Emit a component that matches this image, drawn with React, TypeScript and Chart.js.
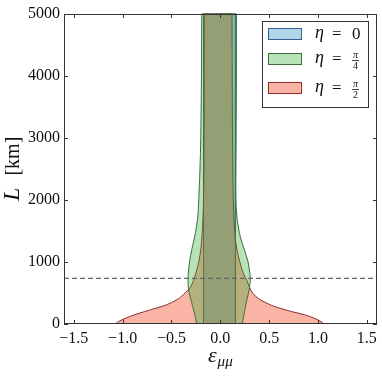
import React, { useEffect, useRef } from 'react';
import { Chart, registerables } from 'chart.js';

Chart.register(...registerables);

// ---------- data ----------
const X_TICKS = [-1.5, -1.0, -0.5, 0.0, 0.5, 1.0, 1.5];
const Y_TICKS = [0, 1000, 2000, 3000, 4000, 5000];
const BASELINE_L = 735; // dashed reference line [km]

const L_KM = [0, 50, 100, 150, 200, 250, 300, 400, 500, 600, 700, 800, 1000, 1200, 1400, 1700, 2000, 2500, 3000, 4000, 5000];

// eta = 0
const ETA0_LEFT = [-0.172, -0.172, -0.172, -0.172, -0.172, -0.172, -0.172, -0.172, -0.172, -0.172, -0.172, -0.172, -0.172, -0.172, -0.172, -0.172, -0.172, -0.172, -0.172, -0.172, -0.172];
const ETA0_RIGHT = [0.155, 0.155, 0.155, 0.155, 0.155, 0.155, 0.155, 0.155, 0.155, 0.155, 0.155, 0.155, 0.155, 0.155, 0.155, 0.155, 0.155, 0.155, 0.155, 0.155, 0.155];

// eta = pi/4
const ETA4_LEFT = [-0.24, -0.247, -0.254, -0.262, -0.27, -0.278, -0.286, -0.302, -0.318, -0.328, -0.331, -0.329, -0.315, -0.292, -0.263, -0.232, -0.221, -0.208, -0.2, -0.193, -0.19];
const ETA4_RIGHT = [0.225, 0.23, 0.236, 0.242, 0.248, 0.254, 0.26, 0.273, 0.288, 0.3, 0.307, 0.304, 0.284, 0.246, 0.205, 0.172, 0.16, 0.16, 0.162, 0.165, 0.165];

// eta = pi/2
const ETA2_LEFT = [-1.075, -1.03, -0.96, -0.875, -0.775, -0.67, -0.565, -0.435, -0.36, -0.303, -0.275, -0.254, -0.22, -0.2, -0.188, -0.178, -0.172, -0.168, -0.166, -0.165, -0.165];
const ETA2_RIGHT = [1.06, 1.02, 0.95, 0.86, 0.73, 0.62, 0.525, 0.4, 0.33, 0.297, 0.273, 0.24, 0.2, 0.17, 0.152, 0.14, 0.133, 0.128, 0.125, 0.122, 0.12];

// ---------- styles ----------
const SERIF = "'Liberation Serif', 'DejaVu Serif', serif";
const BLUE_FILL = 'rgba(35,133,189,0.35)';
const BLUE_EDGE = '#34618f';
const GREEN_FILL = 'rgba(52,172,52,0.35)';
const GREEN_EDGE = '#3a6e3e';
const RED_FILL = 'rgba(241,41,0,0.35)';
const RED_EDGE = '#8a2e2e';
const FRAME = '#333333';

function polygon(left: number[], right: number[]) {
  const pts: { x: number; y: number }[] = L_KM.map((l, i) => ({ x: left[i], y: l }));
  const n = L_KM.length - 1;
  pts.push({ x: left[n], y: L_KM[n] });
  const rp = L_KM.map((l, i) => ({ x: right[i], y: l })).reverse();
  pts.push({ x: rp[0].x, y: rp[0].y });
  return pts.concat(rp);
}

const LEGEND = [
  { label: '0', fill: BLUE_FILL, edge: BLUE_EDGE },
  { label: 'π/4', fill: GREEN_FILL, edge: GREEN_EDGE },
  { label: 'π/2', fill: RED_FILL, edge: RED_EDGE },
];

const decor = {
  id: 'decor',
  afterDatasetsDraw(chart: any) {
    const { ctx, chartArea: a, scales } = chart;
    ctx.save();
    // frame
    ctx.strokeStyle = FRAME;
    ctx.lineWidth = 1;
    const L = Math.round(a.left), T = Math.round(a.top), R = Math.round(a.right), B = Math.round(a.bottom);
    ctx.strokeRect(L + 0.5, T + 0.5, R - L - 1, B - T - 1);
    // inward ticks on all sides
    ctx.beginPath();
    X_TICKS.forEach((v) => {
      const px = Math.round(scales.x.getPixelForValue(v)) + 0.5;
      ctx.moveTo(px, B); ctx.lineTo(px, B - 4);
      ctx.moveTo(px, T); ctx.lineTo(px, T + 4);
    });
    Y_TICKS.forEach((v) => {
      const py = Math.round(scales.y.getPixelForValue(v)) + 0.5;
      ctx.moveTo(L, py); ctx.lineTo(L + 4, py);
      ctx.moveTo(R, py); ctx.lineTo(R - 4, py);
    });
    ctx.stroke();

    // legend
    const bx = 262.5, by = 21.5, bw = 106, bh = 86;
    ctx.fillStyle = '#ffffff';
    ctx.fillRect(bx, by, bw, bh);
    ctx.strokeStyle = FRAME;
    ctx.strokeRect(bx, by, bw, bh);
    const rows = [34, 59, 88];
    LEGEND.forEach((e, i) => {
      const cy = rows[i];
      ctx.fillStyle = e.fill;
      ctx.fillRect(268, cy - 6, 34, 12);
      ctx.strokeStyle = e.edge;
      ctx.lineWidth = 1;
      ctx.strokeRect(268.5, cy - 5.5, 33, 11);
      ctx.fillStyle = '#111';
      ctx.textBaseline = 'alphabetic';
      ctx.textAlign = 'left';
      ctx.font = `italic 18px ${SERIF}`;
      ctx.fillText('η', 315, cy + 4);
      ctx.font = `17px ${SERIF}`;
      ctx.fillText('=', 332, cy + 5);
      if (e.label === '0') {
        ctx.font = `17px ${SERIF}`;
        ctx.fillText('0', 352, cy + 5);
      } else {
        const [num, den] = e.label.split('/');
        const cx = 355.5;
        const bar = cy + 1;
        ctx.textAlign = 'center';
        ctx.font = `italic 10px ${SERIF}`;
        ctx.fillText(num, cx, bar - 2);
        ctx.font = `10px ${SERIF}`;
        ctx.fillText(den, cx, bar + 9);
        ctx.beginPath();
        ctx.strokeStyle = '#111';
        ctx.lineWidth = 0.8;
        ctx.moveTo(cx - 3.5, bar + 0.5);
        ctx.lineTo(cx + 3.5, bar + 0.5);
        ctx.stroke();
        ctx.lineWidth = 1;
      }
    });

    // x axis title: ε_{μμ}
    ctx.fillStyle = '#111';
    ctx.textAlign = 'left';
    ctx.textBaseline = 'alphabetic';
    ctx.font = `italic 22px ${SERIF}`;
    const wE = ctx.measureText('ε').width;
    ctx.font = `italic 15px ${SERIF}`;
    const wM = ctx.measureText('μμ').width;
    const cxT = (a.left + a.right) / 2;
    const x0 = cxT - (wE + wM + 1) / 2;
    ctx.font = `italic 22px ${SERIF}`;
    ctx.fillText('ε', x0, 362);
    ctx.font = `italic 15px ${SERIF}`;
    ctx.fillText('μμ', x0 + wE + 1, 366);

    // y axis title: L [km]
    ctx.save();
    ctx.translate(19, (a.top + a.bottom) / 2);
    ctx.rotate(-Math.PI / 2);
    ctx.font = `italic 24px ${SERIF}`;
    const wL = ctx.measureText('L').width;
    ctx.font = `20px ${SERIF}`;
    const wK = ctx.measureText('[km]').width;
    const gap = 12;
    const s = -(wL + gap + wK) / 2;
    ctx.font = `italic 24px ${SERIF}`;
    ctx.fillText('L', s, 0);
    ctx.font = `20px ${SERIF}`;
    ctx.fillText('[km]', s + wL + gap, 0);
    ctx.restore();

    ctx.restore();
  },
};

export default function App() {
  const ref = useRef<HTMLCanvasElement>(null);
  useEffect(() => {
    document.body.style.margin = '0';
    const canvas = ref.current;
    if (!canvas) return;
    const common = { pointRadius: 0, pointHoverRadius: 0, borderWidth: 1, tension: 0.3 };
    const chart = new Chart(canvas, {
      type: 'line',
      data: {
        datasets: [
          {
            label: 'baseline',
            data: [{ x: -1.6, y: BASELINE_L }, { x: 1.6, y: BASELINE_L }],
            borderColor: '#666666',
            borderWidth: 1.2,
            borderDash: [5, 3],
            pointRadius: 0,
            fill: false,
            tension: 0,
          },
          {
            label: 'η = π/4',
            data: polygon(ETA4_LEFT, ETA4_RIGHT),
            backgroundColor: GREEN_FILL,
            borderColor: GREEN_EDGE,
            fill: 'shape',
            ...common,
          },
          {
            label: 'η = π/2',
            data: polygon(ETA2_LEFT, ETA2_RIGHT),
            backgroundColor: RED_FILL,
            borderColor: RED_EDGE,
            fill: 'shape',
            ...common,
          },
          {
            label: 'η = 0',
            data: polygon(ETA0_LEFT, ETA0_RIGHT),
            backgroundColor: BLUE_FILL,
            borderColor: BLUE_EDGE,
            fill: 'shape',
            ...common,
            tension: 0,
          },
        ],
      },
      options: {
        responsive: false,
        animation: false,
        devicePixelRatio: 1,
        layout: { padding: { top: 12, right: 5, left: 0, bottom: 0 } },
        plugins: {
          legend: { display: false },
          tooltip: { enabled: false },
        },
        scales: {
          x: {
            type: 'linear',
            min: -1.6,
            max: 1.6,
            grid: { display: false, drawTicks: false },
            border: { display: false },
            afterBuildTicks: (s: any) => {
              s.ticks = X_TICKS.map((v) => ({ value: v }));
            },
            afterFit: (s: any) => {
              s.height = 54;
            },
            ticks: {
              padding: 5,
              color: '#111',
              font: { family: SERIF, size: 16 },
              maxRotation: 0,
              autoSkip: false,
              callback: (v: any) => Number(v).toFixed(1).replace('-', '\u2212'),
            },
          },
          y: {
            type: 'linear',
            min: 0,
            max: 5000,
            grid: { display: false, drawTicks: false },
            border: { display: false },
            afterBuildTicks: (s: any) => {
              s.ticks = Y_TICKS.map((v) => ({ value: v }));
            },
            afterFit: (s: any) => {
              s.width = 64;
            },
            ticks: {
              padding: 4,
              color: '#111',
              font: { family: SERIF, size: 16 },
              autoSkip: false,
              callback: (v: any) => String(v),
            },
          },
        },
      },
      plugins: [decor],
    } as any);
    return () => chart.destroy();
  }, []);
  return (
    <div style={{ width: 382, height: 378 }}>
      <canvas ref={ref} width={382} height={378} style={{ display: 'block', width: 382, height: 378 }} />
    </div>
  );
}
